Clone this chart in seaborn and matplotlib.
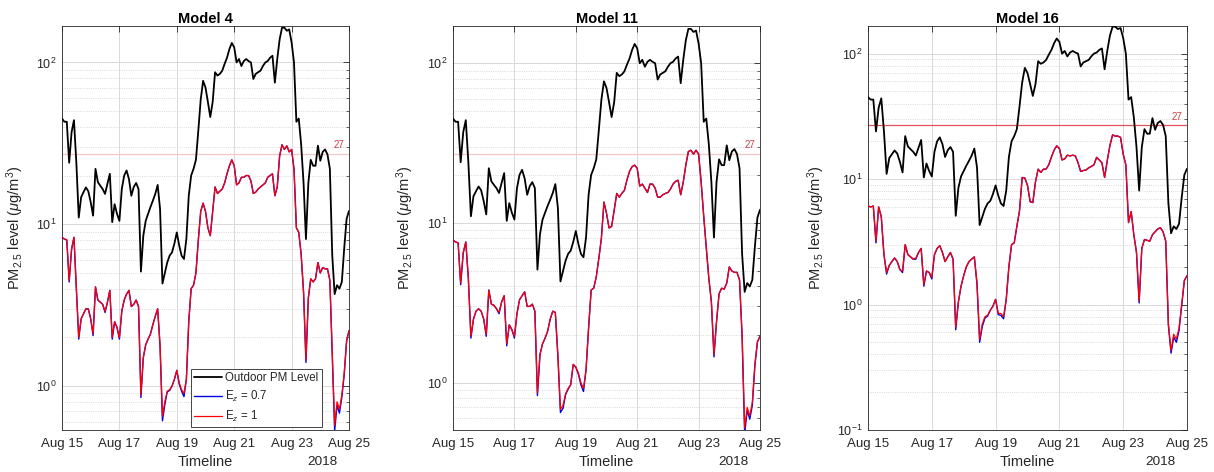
import numpy as np
import pandas as pd
import matplotlib
matplotlib.use('Agg')
import matplotlib.pyplot as plt
import matplotlib.dates as mdates
from matplotlib.ticker import LogLocator, LogFormatterSciNotation, NullFormatter
import seaborn as sns

sns.set_style('white')
plt.rcParams['font.family'] = ['Liberation Sans', 'DejaVu Sans']
plt.rcParams['mathtext.fontset'] = 'custom'
plt.rcParams['mathtext.rm'] = 'Liberation Sans'
plt.rcParams['mathtext.it'] = 'Liberation Sans:italic'
plt.rcParams['mathtext.bf'] = 'Liberation Sans:bold'

# ---------------- data (2-hour steps from Aug 15 00:00) ----------------
start = '2018-08-15'
step = '2h'
models = ['Model 4', 'Model 11', 'Model 16']
threshold = 27
year_label = '2018'

outdoor = [45, 43, 43, 24, 37, 44, 24, 11, 14.7, 15.8,
           16.9, 16, 13.7, 11.3, 22, 18.2, 17.3, 16.5, 15.4, 17.8,
           20.5, 10.3, 13.3, 11.6, 10.5, 16.5, 20, 21.5, 19, 15,
           17, 18, 16.5, 5.1, 8.5, 10.5, 11.6, 12.8, 14, 15.4,
           17.5, 12.4, 4.3, 5.0, 5.8, 6.4, 6.7, 7.6, 8.9, 7.4,
           6.4, 6.1, 8.1, 15, 20, 22, 25, 38, 59, 77,
           70, 57, 46, 57, 87, 83, 85, 89, 98, 107,
           121, 132, 124, 100, 105, 95, 102, 105, 102, 100,
           79, 85, 87, 89, 95, 100, 102, 107, 110, 75,
           105, 139, 164, 164, 157, 160, 133, 100, 43, 45,
           31, 18, 8.1, 18, 25, 23, 23, 30.6, 24.7, 28,
           29, 27, 22, 6.4, 3.7, 4.2, 4.0, 4.4, 7.1, 10.8,
           12.1]

m4_ez1 = [8.3, 8.1, 8.0, 4.5, 7.0, 8.3, 4.0, 2.0, 2.6, 2.8,
          3.0, 3.0, 2.6, 2.1, 4.1, 3.4, 3.3, 3.2, 2.9, 3.3,
          3.9, 2.0, 2.5, 2.3, 2.0, 2.9, 3.4, 3.7, 3.9, 3.1,
          3.2, 3.4, 3.1, 0.88, 1.5, 1.8, 1.95, 2.1, 2.4, 2.7,
          3.0, 1.8, 0.65, 0.8, 0.93, 0.95, 1.0, 1.1, 1.25, 1.05,
          0.95, 0.9, 1.1, 2.5, 4.0, 4.2, 5.0, 8.0, 12, 13.5,
          12, 9.5, 8.5, 12, 17, 15.5, 16, 16.5, 18, 20.5,
          23, 25, 23, 17.5, 18, 19.5, 19.5, 20, 20, 18.5,
          15.5, 15.8, 16.5, 17, 17.5, 18, 19.5, 20, 20.5, 15,
          17, 26.5, 31, 29, 30.5, 28, 29, 22, 9.5, 8.9,
          6.5, 3.8, 1.45, 3.5, 4.6, 4.4, 4.6, 5.8, 5.0, 5.4,
          5.3, 5.3, 4.5, 1.6, 0.57, 0.8, 0.72, 0.88, 1.2, 1.9,
          2.2]
m4_ez07 = [8.3, 8.1, 8.0, 4.4, 7.0, 8.3, 4.0, 1.95, 2.6, 2.8,
           3.0, 3.0, 2.6, 2.05, 4.1, 3.4, 3.3, 3.2, 2.85, 3.3,
           3.9, 1.95, 2.5, 2.3, 1.95, 2.9, 3.4, 3.7, 3.9, 3.1,
           3.2, 3.4, 3.1, 0.85, 1.5, 1.8, 1.95, 2.1, 2.4, 2.7,
           3.0, 1.75, 0.61, 0.77, 0.92, 0.94, 1.0, 1.1, 1.25, 1.03,
           0.93, 0.86, 1.1, 2.5, 4.0, 4.2, 5.0, 8.0, 12, 13.5,
           12, 9.5, 8.5, 12, 17, 15.5, 16, 16.5, 18, 20.5,
           23, 25, 23, 17.5, 18, 19.5, 19.5, 20, 20, 18.5,
           15.5, 15.8, 16.5, 17, 17.5, 18, 19.5, 20, 20.5, 15,
           17, 26.5, 31, 29, 30.5, 28, 29, 22, 9.5, 8.9,
           6.5, 3.8, 1.4, 3.5, 4.6, 4.4, 4.6, 5.8, 5.0, 5.4,
           5.3, 5.3, 4.5, 1.55, 0.53, 0.76, 0.68, 0.85, 1.18, 1.9,
           2.2]

m11_ez1 = [7.8, 7.6, 7.5, 4.2, 6.5, 7.6, 4.5, 1.95, 2.5, 2.8,
           2.9, 2.8, 2.5, 2.0, 3.8, 3.1, 3.05, 2.9, 2.75, 3.2,
           3.5, 1.75, 2.3, 2.15, 1.95, 2.7, 3.3, 3.5, 3.7, 3.0,
           3.0, 3.1, 2.8, 0.86, 1.5, 1.75, 1.9, 2.1, 2.5, 2.8,
           2.75, 1.5, 0.68, 0.72, 0.85, 0.92, 0.97, 1.3, 1.25, 1.15,
           1.0, 0.92, 1.2, 2.2, 3.8, 3.9, 4.6, 6.0, 8.0, 13.5,
           11.5, 9.3, 9.5, 12, 15.3, 14.5, 15.3, 16, 18.6, 21,
           22.5, 23, 22, 17, 17.5, 16.5, 15.5, 17.5, 17.5, 16.5,
           14.5, 14.5, 15, 15.3, 15.5, 16.3, 17.5, 18.2, 18.5, 15,
           18, 23, 28, 28.5, 27, 28.5, 27, 18, 11, 7.0,
           4.5, 3.2, 1.5, 2.4, 3.6, 3.9, 3.85, 4.2, 5.3, 5.0,
           4.9, 4.9, 4.4, 2.0, 0.52, 0.7, 0.62, 0.75, 1.3, 1.8,
           1.95]
m11_ez07 = [7.8, 7.6, 7.5, 4.1, 6.5, 7.6, 4.5, 1.9, 2.5, 2.8,
            2.9, 2.8, 2.5, 1.95, 3.8, 3.1, 3.05, 2.9, 2.7, 3.2,
            3.5, 1.7, 2.3, 2.15, 1.9, 2.7, 3.3, 3.5, 3.7, 3.0,
            3.0, 3.1, 2.8, 0.83, 1.5, 1.75, 1.9, 2.1, 2.5, 2.8,
            2.75, 1.45, 0.65, 0.69, 0.84, 0.91, 0.97, 1.3, 1.25, 1.13,
            0.97, 0.88, 1.2, 2.2, 3.8, 3.9, 4.6, 6.0, 8.0, 13.5,
            11.5, 9.3, 9.5, 12, 15.3, 14.5, 15.3, 16, 18.6, 21,
            22.5, 23, 22, 17, 17.5, 16.5, 15.5, 17.5, 17.5, 16.5,
            14.5, 14.5, 15, 15.3, 15.5, 16.3, 17.5, 18.2, 18.5, 15,
            18, 23, 28, 28.5, 27, 28.5, 27, 18, 11, 7.0,
            4.5, 3.2, 1.45, 2.4, 3.6, 3.9, 3.85, 4.2, 5.3, 5.0,
            4.9, 4.9, 4.4, 1.95, 0.48, 0.67, 0.59, 0.72, 1.28, 1.8,
            1.95]

m16_ez1 = [6.1, 6.0, 6.1, 3.2, 6.0, 5.0, 2.5, 1.8, 2.05, 2.2,
           2.35, 2.2, 1.9, 1.85, 3.0, 2.5, 2.4, 2.3, 2.35, 2.6,
           2.8, 1.45, 1.85, 1.8, 1.65, 2.5, 2.8, 2.95, 2.6, 2.2,
           2.4, 2.6, 2.3, 0.66, 1.05, 1.4, 1.7, 2.0, 2.2, 2.3,
           2.4, 1.5, 0.53, 0.7, 0.8, 0.82, 0.9, 0.97, 1.1, 0.85,
           0.85, 0.8, 1.1, 2.0, 3.0, 3.1, 4.2, 5.6, 10.3, 10.2,
           8.9, 6.6, 6.5, 9.5, 12, 11.3, 12, 12, 13, 15,
           17, 18.4, 17.5, 14.2, 14.5, 15.5, 15.3, 15.5, 15.3, 13.5,
           11.5, 11.7, 11.8, 12.3, 12.6, 13, 14.9, 14.2, 13.5, 10.3,
           14, 18.5, 22.5, 22, 22, 21.5, 15.8, 13, 4.5, 5.5,
           3.6, 2.6, 1.07, 2.8, 3.3, 3.25, 3.2, 3.6, 3.8, 4.0,
           4.1, 3.8, 3.2, 0.7, 0.43, 0.58, 0.53, 0.65, 1.0, 1.55,
           1.7]
m16_ez07 = [6.1, 6.0, 6.1, 3.1, 6.0, 5.0, 2.5, 1.75, 2.05, 2.2,
            2.35, 2.2, 1.9, 1.8, 3.0, 2.5, 2.4, 2.3, 2.3, 2.6,
            2.8, 1.4, 1.85, 1.8, 1.6, 2.5, 2.8, 2.95, 2.6, 2.2,
            2.4, 2.6, 2.3, 0.63, 1.05, 1.4, 1.7, 2.0, 2.2, 2.3,
            2.4, 1.45, 0.5, 0.67, 0.78, 0.81, 0.9, 0.97, 1.1, 0.83,
            0.82, 0.77, 1.1, 2.0, 3.0, 3.1, 4.2, 5.6, 10.3, 10.2,
            8.9, 6.6, 6.5, 9.5, 12, 11.3, 12, 12, 13, 15,
            17, 18.4, 17.5, 14.2, 14.5, 15.5, 15.3, 15.5, 15.3, 13.5,
            11.5, 11.7, 11.8, 12.3, 12.6, 13, 14.9, 14.2, 13.5, 10.3,
            14, 18.5, 22.5, 22, 22, 21.5, 15.8, 13, 4.5, 5.5,
            3.6, 2.6, 1.03, 2.8, 3.3, 3.25, 3.2, 3.6, 3.8, 4.0,
            4.1, 3.8, 3.2, 0.68, 0.41, 0.55, 0.5, 0.62, 0.98, 1.55,
            1.7]

indoor_ez07 = [m4_ez07, m11_ez07, m16_ez07]
indoor_ez1 = [m4_ez1, m11_ez1, m16_ez1]
ylims = [(0.535, 168), (0.505, 171), (0.1, 166)]
legend_labels = ['Outdoor PM Level', r'E$_z$ = 0.7', r'E$_z$ = 1']

# ---------------- layout ----------------
W, H = 1214, 472
fig = plt.figure(figsize=(W / 100, H / 100), dpi=100)
boxes_px = [(62, 349), (453, 760), (868, 1187)]
ylabel_off = [36, 37, 41]
top_px, bot_px = 26, 430

times = pd.date_range(start, periods=len(outdoor), freq=step)
thr_colors = ['#f7c6c6', '#f7c6c6', '#e8505a']

for k, name in enumerate(models):
    l, r = boxes_px[k]
    ax = fig.add_axes([l / W, 1 - bot_px / H, (r - l) / W, (bot_px - top_px) / H])
    df = pd.DataFrame({'time': times, 'outdoor': outdoor,
                       'ez07': indoor_ez07[k], 'ez1': indoor_ez1[k]})
    ax.set_yscale('log')
    ax.axhline(threshold, color=thr_colors[k], lw=0.9, zorder=1)
    sns.lineplot(data=df, x='time', y='outdoor', color='black', lw=1.3, ax=ax, zorder=3)
    sns.lineplot(data=df, x='time', y='ez07', color='#0000e6', lw=1.0, ax=ax, zorder=4)
    sns.lineplot(data=df, x='time', y='ez1', color='#ff0000', lw=0.9, ax=ax, zorder=5)

    ax.set_xlim(pd.Timestamp('2018-08-15'), pd.Timestamp('2018-08-25'))
    ax.set_ylim(*ylims[k])
    ax.xaxis.set_major_locator(mdates.DayLocator(bymonthday=[15, 17, 19, 21, 23, 25]))
    ax.xaxis.set_major_formatter(mdates.DateFormatter('%b %d'))
    ax.yaxis.set_major_locator(LogLocator(base=10))
    ax.yaxis.set_major_formatter(LogFormatterSciNotation())
    ax.yaxis.set_minor_locator(LogLocator(base=10, subs=np.arange(2, 10)))
    ax.yaxis.set_minor_formatter(NullFormatter())

    ax.grid(True, which='major', axis='both', color='#d9d9d9', lw=0.7)
    ax.grid(True, which='minor', axis='y', color='#cdcdcd', lw=0.6, ls=':')
    ax.set_axisbelow(True)
    ax.tick_params(which='both', direction='in', top=True, right=True,
                   colors='#262626', labelcolor='#262626')
    ax.tick_params(which='major', length=4, width=0.6)
    ax.tick_params(which='minor', length=2, width=0.5)
    ax.tick_params(axis='x', which='major', labelsize=9.5, pad=6)
    ax.tick_params(axis='y', which='major', labelsize=9, pad=4)
    for s in ax.spines.values():
        s.set_color('#262626')
        s.set_linewidth(0.6)

    ax.set_title(name, fontweight='bold', fontsize=10.5, pad=2.5, color='#000000')
    ax.set_xlabel('Timeline', fontsize=10.5, color='#262626')
    ax.xaxis.set_label_coords(0.5, -0.079)
    ax.xaxis.label.set_verticalalignment('center')
    ax.set_ylabel(r'PM$_{2.5}$ level ($\mu$g/m$^3$)', fontsize=10.5, color='#262626')
    ax.yaxis.set_label_coords(-ylabel_off[k] / (r - l), 0.5)

    ax.text(1 - 27 / (r - l), -0.079, year_label, transform=ax.transAxes,
            ha='center', va='center', fontsize=9.7, color='#262626')
    ax.text(0.985, threshold * 1.06, str(threshold),
            transform=ax.get_yaxis_transform(), ha='right', va='bottom',
            fontsize=7, color='#d03c46')

    if k == 0:
        leg = ax.legend(handles=ax.lines[1:4], labels=legend_labels,
                        loc='lower right', bbox_to_anchor=(0.906, 0.007),
                        borderaxespad=0, fontsize=8.3, frameon=True, fancybox=False,
                        edgecolor='#262626', framealpha=1, handlelength=2.4,
                        labelspacing=0.4, borderpad=0.3, handletextpad=0.3)
        leg.get_frame().set_linewidth(0.6)
        leg.set_zorder(10)

fig.savefig('out.png', dpi=100)
